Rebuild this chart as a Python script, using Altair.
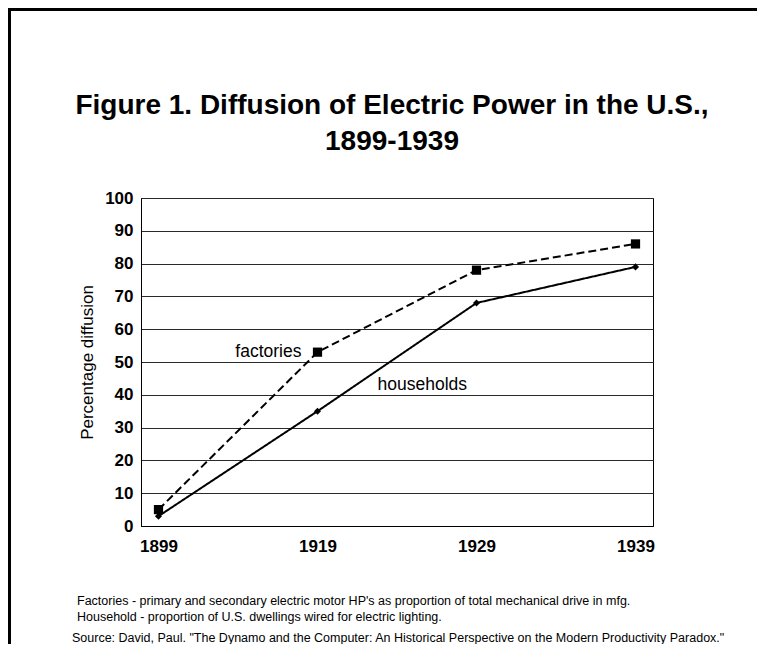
import altair as alt
import pandas as pd

years = ["1899", "1919", "1929", "1939"]
factories = [5, 53, 78, 86]
households = [3, 35, 68, 79]
series_names = ["factories", "households"]

label_text = ["factories", "households"]
label_year = ["1919", "1919"]
label_value = [53, 43]

title_lines = ["Figure 1. Diffusion of Electric Power in the U.S.,", "1899-1939"]

notes = [
    "Factories - primary and secondary electric motor HP's as proportion of total mechanical drive in mfg.",
    "Household - proportion of U.S. dwellings wired for electric lighting.",
    "Source: David, Paul. \"The Dynamo and the Computer: An Historical Perspective on the Modern Productivity Paradox.\"",
]

rows = []
for name, vals in zip(series_names, [factories, households]):
    for y, v in zip(years, vals):
        rows.append({"year": y, "value": v, "series": name})
df = pd.DataFrame(rows)

FONT = "Liberation Sans"

x_enc = alt.X("year:O", scale=alt.Scale(type="point", domain=years, padding=0.11),
              axis=alt.Axis(title=None, labelAngle=0, labelFontWeight="bold", labelFontSize=17,
                            labelPadding=12, ticks=False, domainColor="#000", labelColor="#000"))
y_enc = alt.Y("value:Q", scale=alt.Scale(domain=[0, 100], nice=False),
              axis=alt.Axis(title="Percentage diffusion", titleFontWeight="normal", titleFontSize=17,
                            titlePadding=8, values=list(range(0, 101, 10)), labelFontWeight="bold",
                            labelFontSize=17, labelPadding=8, ticks=False, grid=True,
                            labelOverlap=False,
                            gridColor="#2a2a2a", gridOpacity=1, domainColor="#000", labelColor="#000",
                            titleColor="#000"))

base = alt.Chart(df)

lines = base.mark_line(color="black", strokeWidth=2).encode(
    x=x_enc, y=y_enc,
    strokeDash=alt.StrokeDash("series:N", scale=alt.Scale(domain=series_names, range=[[8, 4], [1, 0]]), legend=None),
)

points = base.mark_point(filled=True, color="black", opacity=1).encode(
    x=x_enc, y=y_enc,
    shape=alt.Shape("series:N", scale=alt.Scale(domain=series_names, range=["square", "diamond"]), legend=None),
    size=alt.Size("series:N", scale=alt.Scale(domain=series_names, range=[85, 50]), legend=None),
)

lab_df = pd.DataFrame({"text": label_text, "year": label_year, "value": label_value})
lab1 = alt.Chart(lab_df.iloc[[0]]).mark_text(font=FONT, fontSize=17.5, align="right", dx=-16,
                                             baseline="middle", color="black").encode(
    x=x_enc, y=y_enc, text="text:N")
lab2 = alt.Chart(lab_df.iloc[[1]]).mark_text(font=FONT, fontSize=17.5, align="left", dx=60,
                                             baseline="middle", color="black").encode(
    x=x_enc, y=y_enc, text="text:N")

title_df = pd.DataFrame({"t": title_lines})
title_marks = []
title_y = [-84, -48]
for i in range(len(title_lines)):
    title_marks.append(
        alt.Chart(title_df.iloc[[i]]).mark_text(font=FONT, fontSize=28, fontWeight="bold", align="center",
                                                baseline="alphabetic", color="black").encode(
            x=alt.value(251), y=alt.value(title_y[i]), text="t:N"))

note_df = pd.DataFrame({"note": notes})
note_marks = []
note_x = [-64, -64, -69]
note_y = [403, 419, 440]
for i in range(len(notes)):
    note_marks.append(
        alt.Chart(note_df.iloc[[i]]).mark_text(font=FONT, fontSize=12.5, align="left", baseline="middle",
                                               color="black").encode(
            x=alt.value(note_x[i]), y=alt.value(note_y[i]), text="note:N"))

border_top = alt.Chart(note_df.iloc[[0]]).mark_rule(color="black", strokeWidth=4).encode(
    x=alt.value(-134), x2=alt.value(640), y=alt.value(-189))
border_left = alt.Chart(note_df.iloc[[0]]).mark_rule(color="black", strokeWidth=4).encode(
    x=alt.value(-132), y=alt.value(-191), y2=alt.value(460))

chart = alt.layer(lines, points, lab1, lab2, *title_marks, *note_marks, border_top, border_left).properties(
    width=512, height=328,
    autosize=alt.AutoSizeParams(type="none"),
    padding={"left": 133, "top": 190, "right": 104, "bottom": 118},
).configure(font=FONT).configure_view(stroke="#000", strokeWidth=1).configure_axis(
    labelFont=FONT, titleFont=FONT)

chart.save("out.html", embed_options={"renderer": "svg", "actions": False})
